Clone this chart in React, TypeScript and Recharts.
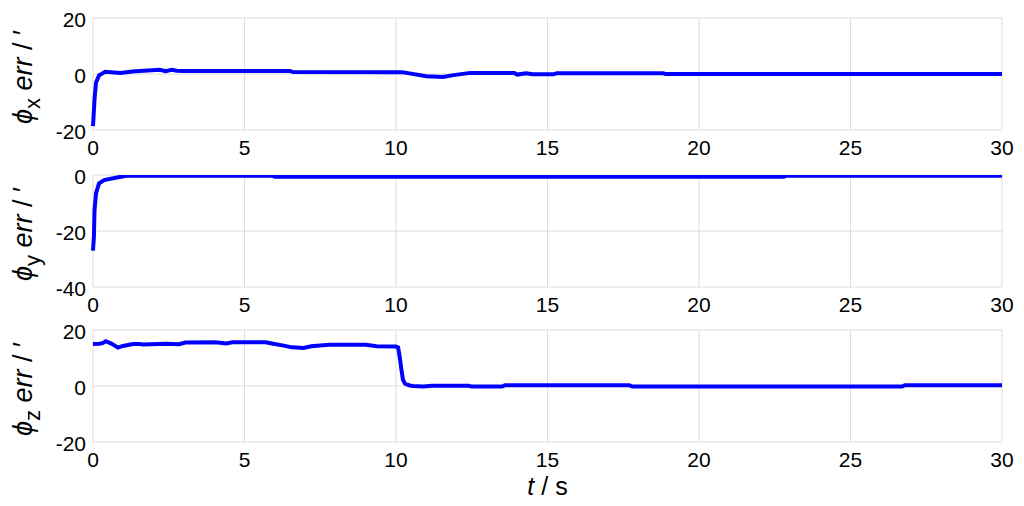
import React from 'react';
import { LineChart, Line, XAxis, YAxis, CartesianGrid, Label } from 'recharts';

const xTicks = [0, 5, 10, 15, 20, 25, 30];
const yTicksX = [-20, 0, 20];
const yTicksY = [-40, -20, 0];
const yTicksZ = [-20, 0, 20];

const tX = [0, 0.03, 0.05, 0.1, 0.2, 0.4, 0.9, 1.3, 1.55, 2.2, 2.4, 2.6, 2.77, 3.0, 6.5, 6.6, 10.2, 10.35, 11.0, 11.55, 11.9, 12.45, 13.9, 14.0, 14.3, 14.5, 15.2, 15.3, 18.8, 18.9, 30];
const vX = [-18.6, -13, -9, -3, -0.5, 0.8, 0.4, 0.9, 1.1, 1.5, 1.0, 1.5, 1.2, 1.1, 1.1, 0.7, 0.6, 0.4, -0.8, -1.1, -0.4, 0.4, 0.4, -0.2, 0.3, -0.1, -0.1, 0.3, 0.3, 0.0, 0.0];

const tY = [0, 0.03, 0.05, 0.1, 0.2, 0.37, 0.75, 1.1, 5.9, 6.0, 22.8, 22.9, 30];
const vY = [-27, -22, -12.6, -6.5, -3, -1.8, -1, -0.25, -0.25, -0.6, -0.6, -0.25, -0.25];

const tZ = [0, 0.22, 0.33, 0.42, 0.55, 0.66, 0.82, 0.99, 1.32, 1.54, 1.65, 2.4, 2.84, 3.05, 4.04, 4.4, 4.6, 5.7, 5.9, 6.25, 6.57, 6.95, 7.2, 7.8, 9.0, 9.36, 10.0, 10.07, 10.12, 10.18, 10.23, 10.3, 10.45, 10.56, 10.9, 11.2, 12.4, 12.5, 13.5, 13.6, 17.7, 17.8, 26.7, 26.8, 30];
const vZ = [15.0, 15.1, 15.4, 16.0, 15.4, 14.8, 13.7, 14.3, 15.0, 15.0, 14.8, 15.1, 14.9, 15.5, 15.6, 15.2, 15.6, 15.6, 15.2, 14.5, 13.8, 13.6, 14.2, 14.7, 14.7, 14.2, 14.1, 13.8, 10.5, 5.7, 2.2, 0.8, 0.2, 0.0, -0.2, 0.1, 0.1, -0.2, -0.2, 0.3, 0.3, -0.2, -0.2, 0.3, 0.3];

const toData = (t: number[], v: number[]) => t.map((tt, i) => ({ t: tt, v: v[i] }));

const FONT = '"Liberation Sans", Arial, sans-serif';

const XTick = (props: any) => {
  const { x, y, payload } = props;
  return (
    <text x={x} y={y} dy="0.71em" textAnchor="middle" fontSize={21} fontFamily={FONT} fill="#000">
      {payload.value}
    </text>
  );
};

const YTick = (props: any) => {
  const { x, y, payload } = props;
  return (
    <text x={x} y={y + 2} dy="0.355em" textAnchor="end" fontSize={21} fontFamily={FONT} fill="#000">
      {payload.value}
    </text>
  );
};

const makeYLabel = (sub: string) => (props: any) => {
  const vb = props.viewBox || {};
  const cx = 32;
  const cy = (vb.y ?? 0) + (vb.height ?? 0) / 2 + 3;
  return (
    <text
      x={cx}
      y={cy}
      transform={`rotate(-90, ${cx}, ${cy})`}
      textAnchor="middle"
      fontSize={27}
      fontFamily={FONT}
      fill="#000"
    >
      <tspan fontStyle="italic">ϕ</tspan>
      <tspan fontSize={22} dy={8}>{sub}</tspan>
      <tspan dy={-8} fontStyle="italic">{' err'}</tspan>
      <tspan>{' / ′'}</tspan>
    </text>
  );
};

const XLabel = (props: any) => {
  const vb = props.viewBox || {};
  const cx = (vb.x ?? 0) + (vb.width ?? 0) / 2;
  const y = 180;
  return (
    <text x={cx} y={y} textAnchor="middle" fontSize={25} fontFamily={FONT} fill="#000">
      <tspan fontStyle="italic">t</tspan>
      <tspan>{' / s'}</tspan>
    </text>
  );
};

type PanelProps = {
  top: number;
  height: number;
  marginTop: number;
  xAxisHeight: number;
  data: { t: number; v: number }[];
  yDomain: [number, number];
  yTicks: number[];
  sub: string;
  showXLabel?: boolean;
};

const Panel = ({ top, height, marginTop, xAxisHeight, data, yDomain, yTicks, sub, showXLabel }: PanelProps) => (
  <div style={{ position: 'absolute', left: 0, top, width: 1024, height }}>
    <LineChart width={1024} height={height} data={data} margin={{ top: marginTop, right: 22, bottom: 0, left: 0 }}>
      <CartesianGrid stroke="#dcdcdc" strokeWidth={1} verticalValues={xTicks} horizontalValues={yTicks} />
      <XAxis
        dataKey="t"
        type="number"
        domain={[0, 30]}
        ticks={xTicks}
        axisLine={false}
        tickLine={false}
        tickSize={0}
        tickMargin={10}
        height={xAxisHeight}
        tick={<XTick />}
        interval={0}
      >
        {showXLabel ? <Label content={<XLabel />} /> : null}
      </XAxis>
      <YAxis
        type="number"
        domain={yDomain}
        ticks={yTicks}
        axisLine={false}
        tickLine={false}
        tickSize={0}
        tickMargin={7}
        width={93}
        tick={<YTick />}
        interval={0}
        allowDataOverflow
      >
        <Label content={makeYLabel(sub)} />
      </YAxis>
      <Line
        dataKey="v"
        type="linear"
        stroke="#0000ff"
        strokeWidth={4}
        dot={false}
        isAnimationActive={false}
      />
    </LineChart>
  </div>
);

export default function App() {
  return (
    <div style={{ position: 'absolute', left: 0, top: 0, width: 1024, height: 506, background: '#fff', overflow: 'hidden' }}>
      <Panel top={0} height={160} marginTop={18} xAxisHeight={30} data={toData(tX, vX)} yDomain={[-20, 20]} yTicks={yTicksX} sub="x" />
      <Panel top={160} height={155} marginTop={15} xAxisHeight={28} data={toData(tY, vY)} yDomain={[-40, 0]} yTicks={yTicksY} sub="y" />
      <Panel top={315} height={191} marginTop={15} xAxisHeight={64} data={toData(tZ, vZ)} yDomain={[-20, 20]} yTicks={yTicksZ} sub="z" showXLabel />
    </div>
  );
}
